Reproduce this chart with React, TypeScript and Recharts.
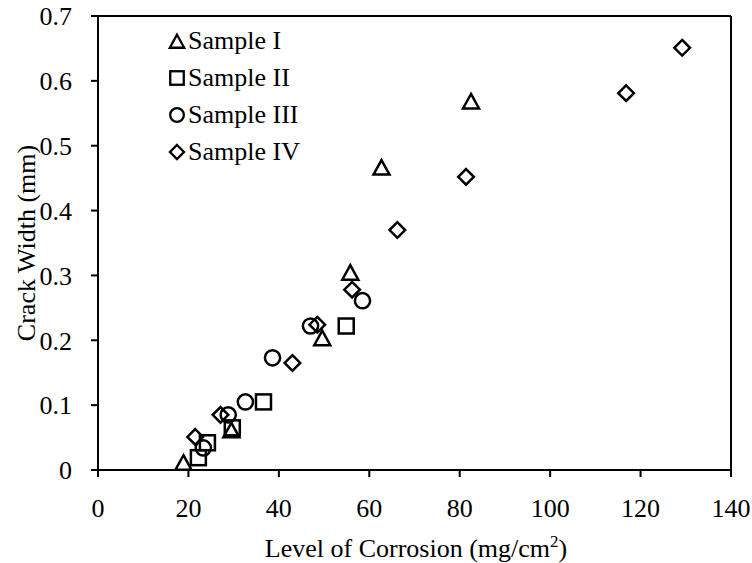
import React from 'react';
import { ScatterChart, Scatter, XAxis, YAxis, ReferenceLine, Legend } from 'recharts';

// readings taken off the original figure
const sampleI = [
    { x: 18.9, y: 0.012 },
    { x: 29.5, y: 0.062 },
    { x: 49.6, y: 0.204 },
    { x: 55.8, y: 0.305 },
    { x: 62.7, y: 0.467 },
    { x: 82.5, y: 0.569 },
];

const sampleII = [
    { x: 22.2, y: 0.019 },
    { x: 24.2, y: 0.042 },
    { x: 29.7, y: 0.065 },
    { x: 36.6, y: 0.105 },
    { x: 54.9, y: 0.222 },
];

const sampleIII = [
    { x: 23.3, y: 0.034 },
    { x: 28.8, y: 0.085 },
    { x: 32.6, y: 0.105 },
    { x: 38.6, y: 0.173 },
    { x: 47.0, y: 0.222 },
    { x: 58.5, y: 0.261 },
];

const sampleIV = [
    { x: 21.5, y: 0.051 },
    { x: 27.1, y: 0.085 },
    { x: 43.0, y: 0.165 },
    { x: 48.5, y: 0.224 },
    { x: 56.2, y: 0.278 },
    { x: 66.2, y: 0.37 },
    { x: 81.4, y: 0.452 },
    { x: 116.8, y: 0.581 },
    { x: 129.2, y: 0.651 },
];

const xTicks = [0, 20, 40, 60, 80, 100, 120, 140];
const yTicks = [0, 0.1, 0.2, 0.3, 0.4, 0.5, 0.6, 0.7];

type MarkerKind = 'triangle' | 'square' | 'circle' | 'diamond';

const SERIES: { name: string; data: { x: number; y: number }[]; marker: MarkerKind }[] = [
    { name: 'Sample I', data: sampleI, marker: 'triangle' },
    { name: 'Sample II', data: sampleII, marker: 'square' },
    { name: 'Sample III', data: sampleIII, marker: 'circle' },
    { name: 'Sample IV', data: sampleIV, marker: 'diamond' },
];

const FONT = '"Liberation Serif", "Times New Roman", serif';

// hollow black markers, like the Excel ones
function Marker({ kind, cx, cy, s = 1, sw = 2.5 }: { kind: MarkerKind; cx: number; cy: number; s?: number; sw?: number }) {
    const common = { fill: 'none', stroke: '#000', strokeWidth: sw, strokeLinejoin: 'miter' as const };
    switch (kind) {
        case 'triangle':
            return (
                <polygon
                    points={`${cx},${cy - 7 * s} ${cx + 8 * s},${cy + 7.5 * s} ${cx - 8 * s},${cy + 7.5 * s}`}
                    {...common}
                />
            );
        case 'square':
            return <rect x={cx - 7.5 * s} y={cy - 7.5 * s} width={15 * s} height={15 * s} {...common} />;
        case 'circle':
            return <circle cx={cx} cy={cy} r={7.6 * s} {...common} />;
        default:
            return (
                <polygon
                    points={`${cx},${cy - 7.8 * s} ${cx + 7.8 * s},${cy} ${cx},${cy + 7.8 * s} ${cx - 7.8 * s},${cy}`}
                    {...common}
                />
            );
    }
}

const LegendBox = () => (
    <div style={{ fontFamily: FONT, fontSize: 26, color: '#000' }}>
        {SERIES.map(s => (
            <div key={s.name} style={{ display: 'flex', alignItems: 'center', height: 37, lineHeight: '37px' }}>
                <svg width={22} height={22} style={{ display: 'block' }}>
                    <Marker kind={s.marker} cx={11} cy={11} s={0.9} sw={2.3} />
                </svg>
                <span style={{ whiteSpace: 'nowrap' }}>{s.name}</span>
            </div>
        ))}
    </div>
);

const YTitle = () => (
    <text
        x={35}
        y={243}
        transform="rotate(-90 35 243)"
        textAnchor="middle"
        fontFamily={FONT}
        fontSize={26}
        fill="#000"
    >
        Crack Width (mm)
    </text>
);

const XTitle = () => (
    <text x={416} y={557} textAnchor="middle" fontFamily={FONT} fontSize={26} fill="#000">
        Level of Corrosion (mg/cm
        <tspan fontSize={17} dy={-10}>2</tspan>
        <tspan dy={10}>)</tspan>
    </text>
);

export default function App() {
    const tickStyle = { fill: '#000', fontSize: 26, fontFamily: FONT };
    const lineStyle = { stroke: '#000', strokeWidth: 2 };

    return (
        <div style={{ width: 752, height: 563, background: '#fff', fontFamily: FONT }}>
            <style>{'body{margin:0;background:#fff}'}</style>
            <ScatterChart width={752} height={563} margin={{ top: 16, right: 21, bottom: 0, left: 0 }}>
                <XAxis
                    type="number"
                    dataKey="x"
                    domain={[0, 140]}
                    ticks={xTicks}
                    interval={0}
                    height={93}
                    tick={tickStyle}
                    tickSize={7}
                    tickMargin={22}
                    axisLine={lineStyle}
                    tickLine={lineStyle}
                    allowDataOverflow
                    label={() => <XTitle />}
                />
                <YAxis
                    type="number"
                    dataKey="y"
                    domain={[0, 0.7]}
                    ticks={yTicks}
                    interval={0}
                    width={98}
                    tick={tickStyle}
                    tickSize={7}
                    tickMargin={19}
                    axisLine={lineStyle}
                    tickLine={lineStyle}
                    tickFormatter={(v: number) => (v === 0 ? '0' : v.toFixed(1))}
                    allowDataOverflow
                    label={() => <YTitle />}
                />
                <ReferenceLine y={0.7} stroke="#000" strokeWidth={2} />
                <ReferenceLine x={140} stroke="#000" strokeWidth={2} />
                <Legend
                    layout="vertical"
                    align="center"
                    verticalAlign="middle"
                    content={() => <LegendBox />}
                    wrapperStyle={{ left: 166, top: 22, width: 'auto', height: 'auto' }}
                />
                {SERIES.map(s => (
                    <Scatter
                        key={s.name}
                        name={s.name}
                        data={s.data}
                        isAnimationActive={false}
                        shape={(props: any) => <Marker kind={s.marker} cx={props.cx} cy={props.cy} />}
                    />
                ))}
            </ScatterChart>
        </div>
    );
}
